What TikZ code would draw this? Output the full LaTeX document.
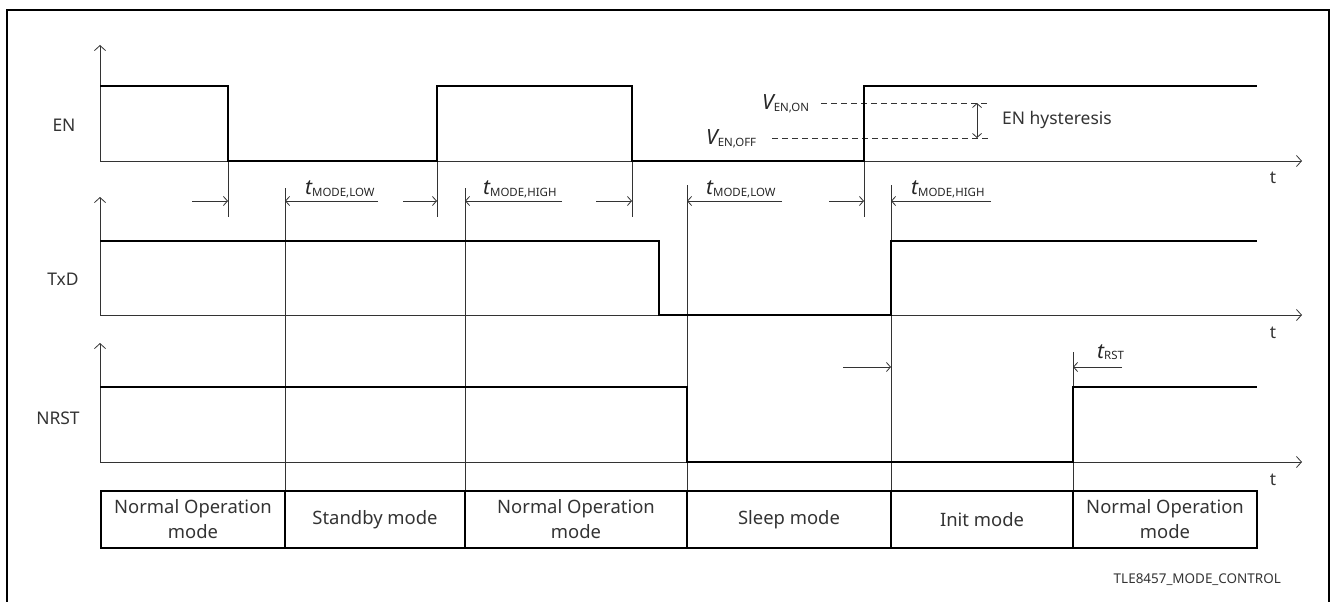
\documentclass[tikz,border=0pt]{standalone}
\usepackage{fontspec}
\setmainfont{Noto Sans}
\usetikzlibrary{arrows.meta}
\newcommand{\tsub}[2]{{\fontsize{21}{21}\selectfont\itshape #1}\raisebox{-1.5bp}{\fontsize{11.5}{11.5}\selectfont #2}}
\tikzset{
  sig/.style={line width=2.6bp, line join=miter, draw=black},
  fine/.style={line width=0.8bp, draw=black!80},
  axis/.style={fine, -{Straight Barb[length=5bp,width=11bp]}},
  tarrow/.style={fine, -{Straight Barb[length=4bp,width=9bp]}},
  lbl/.style={font=\fontsize{17.5}{24}\selectfont, text=black!80, inner sep=0pt},
  sublbl/.style={text=black!85, inner sep=0pt, anchor=base west},
  modebox/.style={draw=black, line width=2.6bp, minimum height=57bp, inner sep=0pt,
    align=center, font=\fontsize{18.5}{25}\selectfont, text=black!80},
}
\begin{document}
\begin{tikzpicture}[x=1bp,y=-1bp]
\useasboundingbox (0,0) rectangle (1332,602);
% frame
\draw[line width=1.2bp] (7,602) -- (7,10) -- (1329,10) -- (1329,602);

% signal labels
\node[lbl] (lEN) at (64,125) {EN};
\node[lbl] (lTxD) at (63,279) {TxD};
\node[lbl] (lNRST) at (58,418) {NRST};

% axes
\draw[axis] (100,161) -- (100,45);
\draw[axis] (100,161) -- (1302,161);
\draw[axis] (100,315) -- (100,197);
\draw[axis] (100,315) -- (1302,315);
\draw[axis] (100,462) -- (100,343);
\draw[axis] (100,462) -- (1302,462);
\node[lbl] (t1) at (1273,178) {t};
\node[lbl] (t2) at (1273,333) {t};
\node[lbl] (t3) at (1273,480) {t};

% vertical markers
\draw[fine] (228,161) -- (228,217);
\draw[fine] (437,161) -- (437,217);
\draw[fine] (632,161) -- (632,217);
\draw[fine] (864,161) -- (864,217);
\draw[fine] (285,188) -- (285,491);
\draw[fine] (465,188) -- (465,491);
\draw[fine] (687,185) -- (687,491);
\draw[fine] (891,185) -- (891,491);
\draw[fine] (1073,352) -- (1073,491);

% timing arrows
\draw[tarrow] (192,201) -- (228,201);
\draw[tarrow] (378,201) -- (285,201);
\draw[tarrow] (403,201) -- (437,201);
\draw[tarrow] (562,201) -- (465,201);
\draw[tarrow] (596,201) -- (632,201);
\draw[tarrow] (782,201) -- (687,201);
\draw[tarrow] (829,201) -- (864,201);
\draw[tarrow] (991,201) -- (891,201);
\draw[tarrow] (843,367) -- (891,367);
\draw[tarrow] (1122,367) -- (1073,367);

\node[sublbl] (tml1) at (305,195) {\tsub{t}{MODE,LOW}};
\node[sublbl] (tmh1) at (483,195) {\tsub{t}{MODE,HIGH}};
\node[sublbl] (tml2) at (706,195) {\tsub{t}{MODE,LOW}};
\node[sublbl] (tmh2) at (911,195) {\tsub{t}{MODE,HIGH}};
\node[sublbl] (trst) at (1097,358) {\tsub{t}{RST}};

% hysteresis
\draw[fine, dash pattern=on 6bp off 4bp] (821,103) -- (990,103);
\draw[fine, dash pattern=on 6bp off 4bp] (772,138) -- (990,138);
\draw[fine, {Straight Barb[length=4bp,width=9bp]}-{Straight Barb[length=4bp,width=9bp]}] (977,103) -- (977,138);
\node[sublbl] (von) at (762,110) {\tsub{V}{EN,ON}};
\node[sublbl] (voff) at (706,145) {\tsub{V}{EN,OFF}};
\node[lbl, anchor=west] (hyst) at (1002,120) {EN hysteresis};

% signals
\draw[sig] (100,86) -- (228,86) -- (228,161) -- (437,161) -- (437,86) -- (632,86) -- (632,161) -- (864,161) -- (864,86) -- (1257,86);
\draw[sig] (100,241) -- (659,241) -- (659,315) -- (891,315) -- (891,241) -- (1257,241);
\draw[sig] (100,387) -- (687,387) -- (687,462) -- (1073,462) -- (1073,387) -- (1257,387);

% mode boxes
\node[modebox, minimum width=184bp] (m1) at (193,519.5) {Normal Operation\\mode};
\node[modebox, minimum width=180bp] (m2) at (375,519.5) {Standby mode};
\node[modebox, minimum width=222bp] (m3) at (576,519.5) {Normal Operation\\mode};
\node[modebox, minimum width=204bp] (m4) at (789,519.5) {Sleep mode};
\node[modebox, minimum width=182bp] (m5) at (982,519.5) {Init mode};
\node[modebox, minimum width=184bp] (m6) at (1165,519.5) {Normal Operation\\mode};

\node[inner sep=0pt, anchor=east, font=\fontsize{13.5}{15}\selectfont, text=black!80] (code) at (1281,580) {TLE8457\_MODE\_CONTROL};
\end{tikzpicture}
\end{document}
